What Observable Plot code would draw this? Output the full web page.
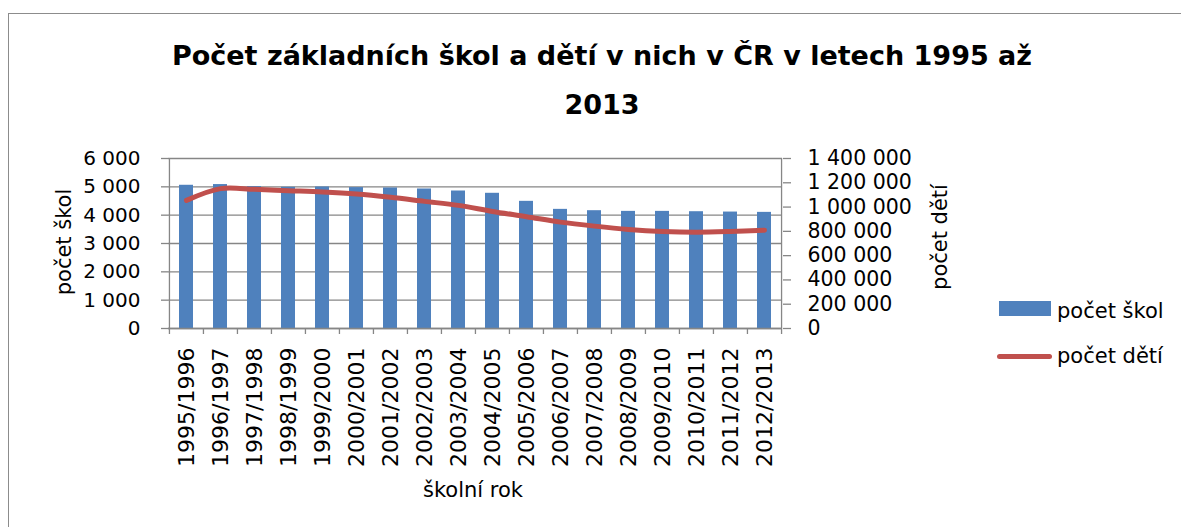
<!DOCTYPE html>
<html>
<head>
<meta charset="utf-8">
<script src="https://cdn.jsdelivr.net/npm/d3@7"></script>
<script src="https://cdn.jsdelivr.net/npm/@observablehq/plot@0.6"></script>
<style>
  body { margin: 0; background: #fff; }
  #wrap { position: relative; width: 1181px; height: 527px; overflow: hidden; font-family: "DejaVu Sans", sans-serif; color: #000; }
  #border { position: absolute; left: 8px; top: 13px; width: 1220px; height: 620px; border: 1.5px solid #8c8c8c; box-sizing: border-box; }
  #chart { position: absolute; left: 0; top: 0; }
  .title { position: absolute; left: 8px; width: 1188px; text-align: center; font-weight: bold; font-size: 27px; line-height: 1.164; white-space: nowrap; }
  .lbl { position: absolute; font-size: 20.5px; white-space: nowrap; }
  .rot { transform: translate(-50%, -50%) rotate(-90deg); }
</style>
</head>
<body>
<div id="wrap">
  <div id="border"></div>
  <div id="chart"></div>
</div>
<script>
const years = ["1995/1996","1996/1997","1997/1998","1998/1999","1999/2000","2000/2001","2001/2002","2002/2003","2003/2004","2004/2005","2005/2006","2006/2007","2007/2008","2008/2009","2009/2010","2010/2011","2011/2012","2012/2013"];
const schools = [5055, 5080, 5008, 4984, 4995, 4973, 4960, 4924, 4853, 4772, 4488, 4205, 4158, 4134, 4134, 4122, 4110, 4099];
const children = [1055000, 1152000, 1146000, 1135000, 1124000, 1107000, 1080000, 1047000, 1014000, 964000, 921000, 876000, 843000, 816000, 799000, 793000, 799000, 810000];
const leftTicks = [0, 1000, 2000, 3000, 4000, 5000, 6000];
const rightTicks = [0, 200000, 400000, 600000, 800000, 1000000, 1200000, 1400000];
const titleLines = ["Počet základních škol a dětí v nich v ČR v letech 1995 až", "2013"];
const leftLabel = "počet škol";
const rightLabel = "počet dětí";
const xLabel = "školní rok";
const seriesNames = ["počet škol", "počet dětí"];

const barColor = "#4f81bd";
const lineColor = "#c0504d";
const gridColor = "#868686";

const W = 1181, H = 527;
const mL = 168, mR = 399, mT = 158, mB = 199;
const step = (W - mL - mR) / years.length;
const k = 6000 / 1400000; // right-axis value -> left-axis units
const fmt = (v) => d3.format(",")(Math.round(v)).replace(/,/g, " ");

const data = years.map((y, i) => ({year: y, schools: schools[i], children: children[i]}));

const plot = Plot.plot({
  width: W, height: H,
  marginLeft: mL, marginRight: mR, marginTop: mT, marginBottom: mB,
  style: {background: "transparent", fontFamily: "DejaVu Sans, sans-serif", fontSize: "20px", color: "#000"},
  x: {type: "band", domain: years, paddingInner: 0.6, paddingOuter: 0.3, label: null},
  y: {domain: [0, 6000], label: null},
  marks: [
    Plot.gridY(leftTicks, {stroke: gridColor, strokeOpacity: 1, strokeWidth: 1.3}),
    Plot.barY(data, {x: "year", y: "schools", fill: barColor}),
    Plot.ruleY([0], {stroke: gridColor, strokeWidth: 1.3}),
    Plot.ruleX([years[0]], {dx: -step / 2, stroke: gridColor, strokeWidth: 1.3}),
    Plot.ruleX([years[years.length - 1]], {dx: step / 2, stroke: gridColor, strokeWidth: 1.3}),
    Plot.ruleX(years, {x: (d) => d, dx: -step / 2, y1: 0, y2: 0, insetBottom: -6, stroke: gridColor, strokeWidth: 1.3}),
    Plot.ruleX([years[years.length - 1]], {dx: step / 2, y1: 0, y2: 0, insetBottom: -6, stroke: gridColor, strokeWidth: 1.3}),
    Plot.line(data, {x: "year", y: (d) => d.children * k, stroke: lineColor, strokeWidth: 5, curve: "catmull-rom", strokeLinecap: "round", strokeLinejoin: "round"}),
    Plot.axisY(leftTicks, {anchor: "left", tickFormat: fmt, tickSize: 7, tickPadding: 21, stroke: gridColor, strokeWidth: 1.3, fill: "#000", fontSize: 20, label: null}),
    Plot.axisY(rightTicks.map((v) => v * k), {anchor: "right", tickFormat: (d) => fmt(d / k), tickSize: 8, tickPadding: 17, stroke: gridColor, strokeWidth: 1.3, fill: "#000", fontSize: 20.5, label: null}),
    Plot.axisX(years, {anchor: "bottom", tickSize: 0, tickPadding: 19, tickRotate: -90, fill: "#000", fontSize: 22, label: null})
  ]
});
document.getElementById("chart").appendChild(plot);

const wrap = document.getElementById("wrap");
function addDiv(cls, text, css) {
  const d = document.createElement("div");
  d.className = cls;
  d.textContent = text;
  Object.assign(d.style, css);
  wrap.appendChild(d);
  return d;
}
addDiv("title", titleLines[0], {top: "40px"});
addDiv("title", titleLines[1], {top: "89px"});
addDiv("lbl rot", leftLabel, {left: "64px", top: "242px", fontSize: "21px"});
addDiv("lbl rot", rightLabel, {left: "940px", top: "237px", fontSize: "21px"});
addDiv("lbl", xLabel, {left: "473px", top: "490px", transform: "translate(-50%, -50%)", fontSize: "21px"});

// legend
addDiv("", "", {position: "absolute", left: "999px", top: "301px", width: "52px", height: "15px", background: barColor});
addDiv("lbl", seriesNames[0], {left: "1057px", top: "311px", transform: "translateY(-50%)", fontSize: "21px"});
addDiv("", "", {position: "absolute", left: "997px", top: "354px", width: "55px", height: "5px", background: lineColor, borderRadius: "3px"});
addDiv("lbl", seriesNames[1], {left: "1057px", top: "356px", transform: "translateY(-50%)", fontSize: "21px"});
</script>
</body>
</html>
